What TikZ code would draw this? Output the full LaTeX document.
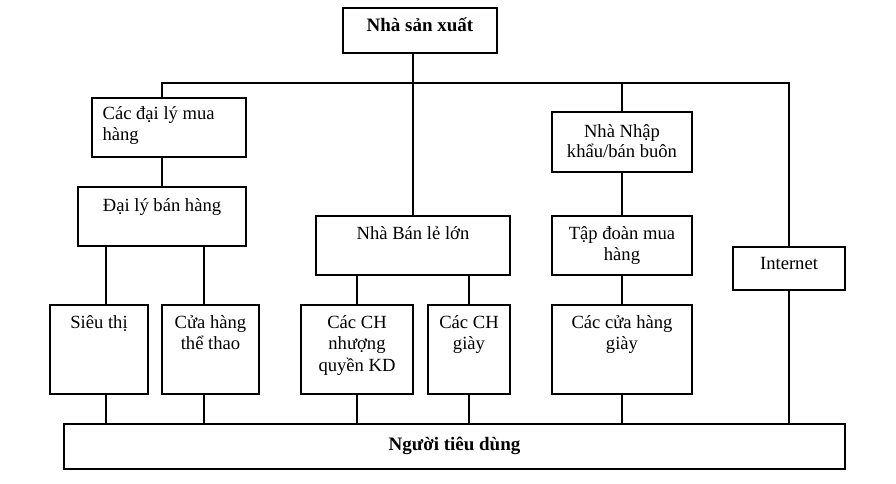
\documentclass[tikz,border=0pt]{standalone}
\usepackage{fontspec}
\setmainfont{Liberation Serif}
\newcommand\tstrut{\rule{0pt}{17pt}}
\begin{document}
\begin{tikzpicture}[x=1pt,y=-1pt,
  box/.style={draw,line width=1.2pt,rectangle,inner sep=0pt},
  txt/.style={inner sep=0pt,align=center,font=\fontsize{18.6}{21.5}\selectfont,anchor=north},
  btxt/.style={inner sep=0pt,align=center,font=\fontsize{19}{22}\selectfont\bfseries,anchor=north},
  conn/.style={line width=1.2pt}]
\useasboundingbox (0,0) rectangle (896,483);
% boxes
\node[box,minimum width=154pt,minimum height=45pt] (prod) at (420,30.5) {};
\node[box,minimum width=154pt,minimum height=59pt] (agbuy) at (169,127.5) {};
\node[box,minimum width=168pt,minimum height=59pt] (agsell) at (162,216.5) {};
\node[box,minimum width=194pt,minimum height=59pt] (retail) at (413,245.5) {};
\node[box,minimum width=140pt,minimum height=60pt] (import) at (622,142) {};
\node[box,minimum width=140pt,minimum height=59pt] (group) at (622,245.5) {};
\node[box,minimum width=112pt,minimum height=43pt] (internet) at (789,268.5) {};
\node[box,minimum width=98pt,minimum height=89pt] (super) at (99,349.5) {};
\node[box,minimum width=97pt,minimum height=89pt] (sport) at (210.5,349.5) {};
\node[box,minimum width=112pt,minimum height=89pt] (franch) at (357,349.5) {};
\node[box,minimum width=82pt,minimum height=89pt] (shoes1) at (469,349.5) {};
\node[box,minimum width=140pt,minimum height=89pt] (shoes2) at (622,349.5) {};
\node[box,minimum width=781pt,minimum height=45pt] (cons) at (454.5,446.5) {};
% texts
\node[btxt] (tprod) at ([yshift=-6.5pt]prod.north) {\tstrut Nhà sản xuất};
\node[txt,align=left,anchor=north west] (tagbuy) at ([xshift=11pt,yshift=-4.5pt]agbuy.north west) {\tstrut Các đại lý mua\\hàng};
\node[txt] (tagsell) at ([yshift=-7.5pt]agsell.north) {\tstrut Đại lý bán hàng};
\node[txt] (tretail) at ([yshift=-6.5pt]retail.north) {\tstrut Nhà Bán lẻ lớn};
\node[txt,font=\fontsize{18.6}{20.5}\selectfont] (timport) at ([yshift=-8.5pt]import.north) {\tstrut Nhà Nhập\\khẩu/bán buôn};
\node[txt] (tgroup) at ([yshift=-6.5pt]group.north) {\tstrut Tập đoàn mua\\hàng};
\node[txt] (tinternet) at ([yshift=-5.5pt]internet.north) {\tstrut Internet};
\node[txt] (tsuper) at ([yshift=-6.5pt]super.north) {\tstrut Siêu thị};
\node[txt] (tsport) at ([yshift=-6.5pt]sport.north) {\tstrut Cửa hàng\\thể thao};
\node[txt] (tfranch) at ([yshift=-6.5pt]franch.north) {\tstrut Các CH\\nhượng\\quyền KD};
\node[txt] (tshoes1) at ([yshift=-6.5pt]shoes1.north) {\tstrut Các CH\\giày};
\node[txt] (tshoes2) at ([yshift=-6.5pt]shoes2.north) {\tstrut Các cửa hàng\\giày};
\node[btxt] (tcons) at ([yshift=-9.5pt]cons.north) {\tstrut Người tiêu dùng};
% connectors
\coordinate (busL) at (162,83);
\coordinate (busR) at (789,83);
\draw[conn] (retail.north) -- (retail.north |- prod.south);
\draw[conn] (agbuy.north -| busL) -- (busL) -- (busR) -- (internet.north);
\draw[conn] (import.north) -- (import.north |- busL);
\draw[conn] (agsell.north) -- (agsell.north |- agbuy.south);
\draw[conn] (import.south) -- (group.north);
\draw[conn] ([xshift=7pt]super.north) -- ([xshift=7pt]super.north |- agsell.south);
\draw[conn] ([xshift=-6.5pt]sport.north) -- ([xshift=-6.5pt]sport.north |- agsell.south);
\draw[conn] (franch.north) -- (franch.north |- retail.south);
\draw[conn] (shoes1.north) -- (shoes1.north |- retail.south);
\draw[conn] (group.south) -- (shoes2.north);
\draw[conn] ([xshift=7pt]super.south) -- ([xshift=7pt]super.south |- cons.north);
\draw[conn] ([xshift=-6.5pt]sport.south) -- ([xshift=-6.5pt]sport.south |- cons.north);
\draw[conn] (franch.south) -- (franch.south |- cons.north);
\draw[conn] (shoes1.south) -- (shoes1.south |- cons.north);
\draw[conn] (shoes2.south) -- (shoes2.south |- cons.north);
\draw[conn] (internet.south) -- (internet.south |- cons.north);
\end{tikzpicture}
\end{document}
